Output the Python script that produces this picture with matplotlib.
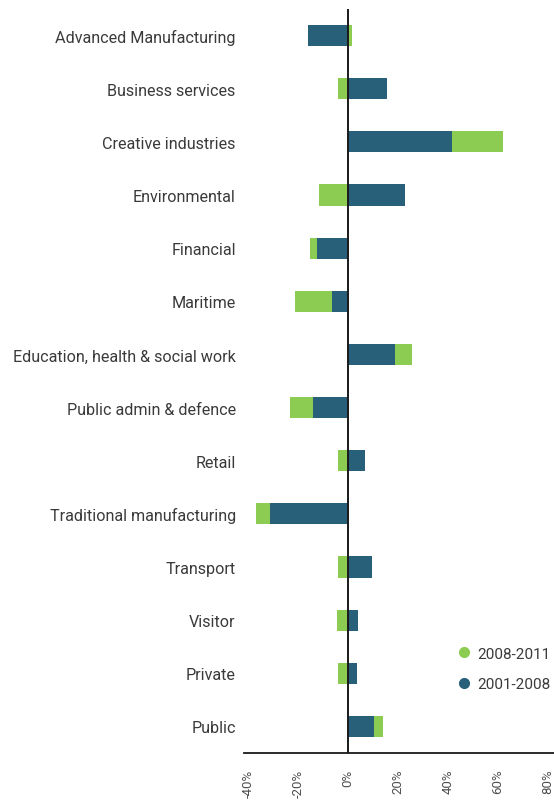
import matplotlib
matplotlib.use("Agg")
import matplotlib.pyplot as plt
from matplotlib.lines import Line2D
import numpy as np

plt.rcParams['font.family'] = ['Roboto', 'DejaVu Sans']

sectors = [
    "Advanced Manufacturing", "Business services", "Creative industries",
    "Environmental", "Financial", "Maritime",
    "Education, health & social work", "Public admin & defence", "Retail",
    "Traditional manufacturing", "Transport", "Visitor", "Private", "Public",
]
# employment change, percent
change_2001_2008 = [-16.0, 15.5, 41.5, 23.0, -12.4, -6.4, 18.8, -14.0, 6.8,
                    -31.2, 9.6, 4.0, 3.6, 10.4]
change_2008_2011 = [1.5, -4.0, 20.5, -11.6, -2.8, -14.8, 6.8, -9.2, -4.0,
                    -5.6, -4.0, -4.4, -4.0, 3.6]
tick_values = [-40, -20, 0, 20, 40, 60, 80]
tick_labels = ["-40%", "-20%", "0%", "20%", "40%", "60%", "80%"]
legend_labels = ["2008-2011", "2001-2008"]

DARK = "#28607a"
GREEN = "#8dcc52"
TEXT = "#3a3a3a"

fig = plt.figure(figsize=(5.54, 8.03), dpi=100)
ax = fig.add_axes([244 / 554, 49 / 803, 310 / 554, 744 / 803])

d = np.array(change_2001_2008)
g = np.array(change_2008_2011)
y = np.arange(len(sectors))
# the later period continues the earlier bar when both move the same way
g_start = np.where(np.sign(d) == np.sign(g), d, 0.0)

h = 0.4
ax.barh(y, d, height=h, color=DARK, zorder=2)
ax.barh(y, g, left=g_start, height=h, color=GREEN, zorder=2)

ax.set_xlim(-41.5, 82.4)
ax.set_ylim(len(sectors) - 0.5, -0.5)
ax.axvline(0, color="#1a1a1a", lw=1.4, zorder=3)

for s in ["top", "right", "left"]:
    ax.spines[s].set_visible(False)
ax.spines["bottom"].set_color("#1a1a1a")
ax.spines["bottom"].set_linewidth(1.3)

ax.set_yticks(y)
ax.set_yticklabels(sectors, fontsize=11.6, color=TEXT)
ax.tick_params(axis="y", length=0, pad=6)

ax.set_xticks(tick_values)
ax.set_xticklabels(tick_labels, rotation=90, fontsize=9.5, color="#505050",
                   va="top")
ax.tick_params(axis="x", length=0, pad=11)

handles = [
    Line2D([], [], marker="o", linestyle="none", markersize=7,
           markerfacecolor=GREEN, markeredgecolor=GREEN),
    Line2D([], [], marker="o", linestyle="none", markersize=7,
           markerfacecolor=DARK, markeredgecolor=DARK),
]
fig.legend(handles, legend_labels, loc="center left",
           bbox_to_anchor=(443 / 554, 1 - 670 / 803), frameon=False,
           fontsize=11, labelcolor=TEXT, handletextpad=0.35,
           labelspacing=1.1, handlelength=1.0)

fig.savefig("out.png", dpi=100, facecolor="white")
